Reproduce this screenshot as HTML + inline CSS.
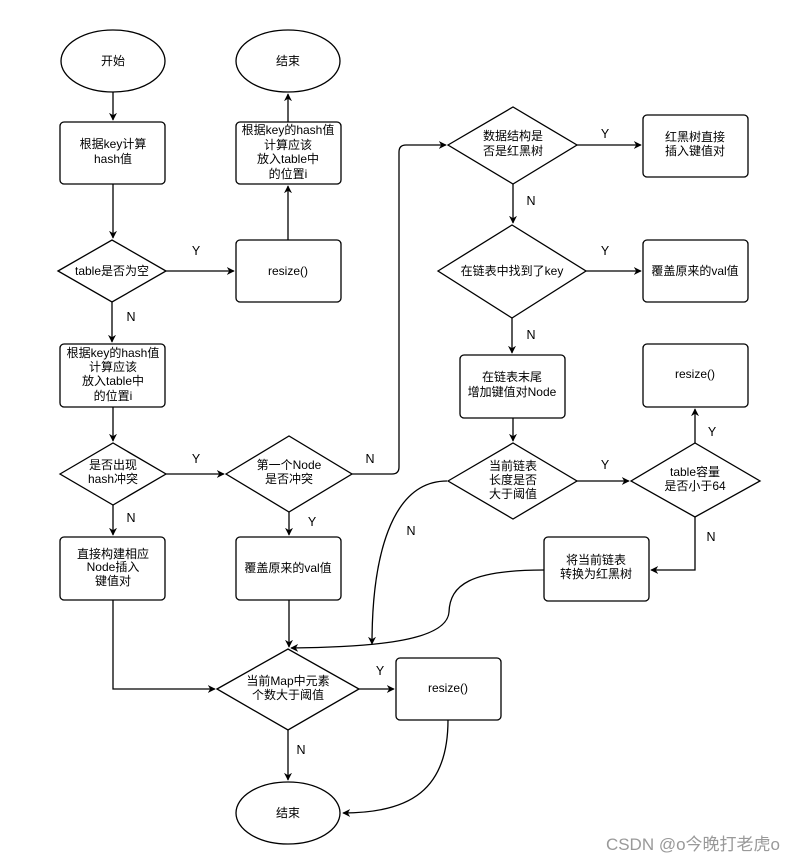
<!DOCTYPE html>
<html><head><meta charset="utf-8"><style>
body{margin:0;background:#fff}
svg{display:block}
text{font-family:"Liberation Sans","Noto Sans CJK SC",sans-serif;font-size:12px;fill:#000}
.l{font-size:12.5px}
</style></head><body>
<svg width="794" height="863" viewBox="0 0 794 863" xmlns="http://www.w3.org/2000/svg">
<defs><marker id="a" viewBox="0 0 10 10" refX="9" refY="5" markerWidth="8" markerHeight="8" orient="auto-start-reverse" markerUnits="userSpaceOnUse"><path d="M0,0 L10,5 L0,10 L3,5 z" fill="#000"/></marker></defs>
<g fill="#fff" stroke="#000" stroke-width="1.3">
<ellipse cx="113" cy="61" rx="52" ry="31"/>
<ellipse cx="288" cy="61" rx="52" ry="31"/>
<ellipse cx="288" cy="813" rx="52" ry="31"/>
<rect x="60" y="122" width="105" height="62" rx="4"/>
<rect x="236" y="122" width="105" height="62" rx="4"/>
<rect x="236" y="240" width="105" height="62" rx="4"/>
<rect x="60" y="344" width="105" height="63" rx="4"/>
<rect x="60" y="537" width="105" height="63" rx="4"/>
<rect x="236" y="537" width="105" height="63" rx="4"/>
<rect x="396" y="658" width="105" height="62" rx="4"/>
<rect x="643" y="115" width="105" height="62" rx="4"/>
<rect x="643" y="240" width="105" height="62" rx="4"/>
<rect x="460" y="355" width="105" height="63" rx="4"/>
<rect x="643" y="344" width="105" height="63" rx="4"/>
<rect x="544" y="537" width="105" height="64" rx="4"/>
<polygon points="58,271 112,240 166,271 112,302"/>
<polygon points="60,474 113,443 166,474 113,505"/>
<polygon points="226,474 289,436 352,474 289,512"/>
<polygon points="217,689 288,649 359,689 288,730"/>
<polygon points="448,145 513,107 577,145 513,184"/>
<polygon points="438,271 512,225 586,271 512,318"/>
<polygon points="448,481 513,443 577,481 513,519"/>
<polygon points="631,481 695,443 760,481 695,517"/>
</g>
<g fill="none" stroke="#000" stroke-width="1.3">
<path d="M113,92 V120" marker-end="url(#a)"/>
<path d="M113,184 V238" marker-end="url(#a)"/>
<path d="M166,271 H234" marker-end="url(#a)"/>
<path d="M288,240 V186" marker-end="url(#a)"/>
<path d="M288,122 V94" marker-end="url(#a)"/>
<path d="M112,302 V342" marker-end="url(#a)"/>
<path d="M113,407 V441" marker-end="url(#a)"/>
<path d="M166,474 H224" marker-end="url(#a)"/>
<path d="M113,505 V535" marker-end="url(#a)"/>
<path d="M289,512 V535" marker-end="url(#a)"/>
<path d="M352,474 H392 Q399,474 399,467 V152 Q399,145 406,145 H446" marker-end="url(#a)"/>
<path d="M113,600 V689 H215" marker-end="url(#a)"/>
<path d="M289,600 V647" marker-end="url(#a)"/>
<path d="M359,689 H394" marker-end="url(#a)"/>
<path d="M288,730 V780" marker-end="url(#a)"/>
<path d="M448,720 C448,790 410,813 343,813" marker-end="url(#a)"/>
<path d="M577,145 H641" marker-end="url(#a)"/>
<path d="M513,184 V223" marker-end="url(#a)"/>
<path d="M586,271 H641" marker-end="url(#a)"/>
<path d="M512,318 V353" marker-end="url(#a)"/>
<path d="M513,418 V441" marker-end="url(#a)"/>
<path d="M577,481 H629" marker-end="url(#a)"/>
<path d="M695,443 V409" marker-end="url(#a)"/>
<path d="M695,517 V570 H651" marker-end="url(#a)"/>
<path d="M447,481 C390,481 372,560 372,644" marker-end="url(#a)"/>
<path d="M544,570 C470,570 450,585 449,612 C447,640 380,647 291,648" marker-end="url(#a)"/>
</g>
<g text-anchor="middle">
<text x="113" y="65">开始</text>
<text x="288" y="65">结束</text>
<text x="288" y="817">结束</text>
<text x="113" y="148">根据key计算</text><text x="113" y="163">hash值</text>
<text x="288" y="134">根据key的hash值</text><text x="288" y="149">计算应该</text><text x="288" y="163">放入table中</text><text x="288" y="178">的位置i</text>
<text x="288" y="275">resize()</text>
<text x="112" y="275">table是否为空</text>
<text x="113" y="357">根据key的hash值</text><text x="113" y="371">计算应该</text><text x="113" y="385">放入table中</text><text x="113" y="400">的位置i</text>
<text x="113" y="469">是否出现</text><text x="113" y="483">hash冲突</text>
<text x="289" y="469">第一个Node</text><text x="289" y="483">是否冲突</text>
<text x="113" y="558">直接构建相应</text><text x="113" y="571">Node插入</text><text x="113" y="585">键值对</text>
<text x="288" y="572">覆盖原来的val值</text>
<text x="288" y="685">当前Map中元素</text><text x="288" y="699">个数大于阈值</text>
<text x="448" y="692">resize()</text>
<text x="513" y="140">数据结构是</text><text x="513" y="155">否是红黑树</text>
<text x="695" y="141">红黑树直接</text><text x="695" y="155">插入键值对</text>
<text x="512" y="275">在链表中找到了key</text>
<text x="695" y="275">覆盖原来的val值</text>
<text x="512" y="381">在链表末尾</text><text x="512" y="396">增加键值对Node</text>
<text x="695" y="378">resize()</text>
<text x="513" y="470">当前链表</text><text x="513" y="484">长度是否</text><text x="513" y="498">大于阈值</text>
<text x="695" y="476">table容量</text><text x="695" y="490">是否小于64</text>
<text x="596" y="564">将当前链表</text><text x="596" y="578">转换为红黑树</text>
</g>
<g class="l" text-anchor="middle">
<text class="l" x="196" y="255">Y</text><text class="l" x="131" y="321">N</text>
<text class="l" x="196" y="463">Y</text><text class="l" x="131" y="522">N</text>
<text class="l" x="370" y="463">N</text><text class="l" x="312" y="526">Y</text>
<text class="l" x="605" y="138">Y</text><text class="l" x="531" y="205">N</text>
<text class="l" x="605" y="255">Y</text><text class="l" x="531" y="339">N</text>
<text class="l" x="605" y="469">Y</text><text class="l" x="712" y="436">Y</text>
<text class="l" x="711" y="541">N</text><text class="l" x="411" y="535">N</text>
<text class="l" x="380" y="675">Y</text><text class="l" x="301" y="754">N</text>
</g>
<text x="780" y="850" text-anchor="end" style="font-size:17px;fill:#999">CSDN @o今晚打老虎o</text>
</svg>
</body></html>
